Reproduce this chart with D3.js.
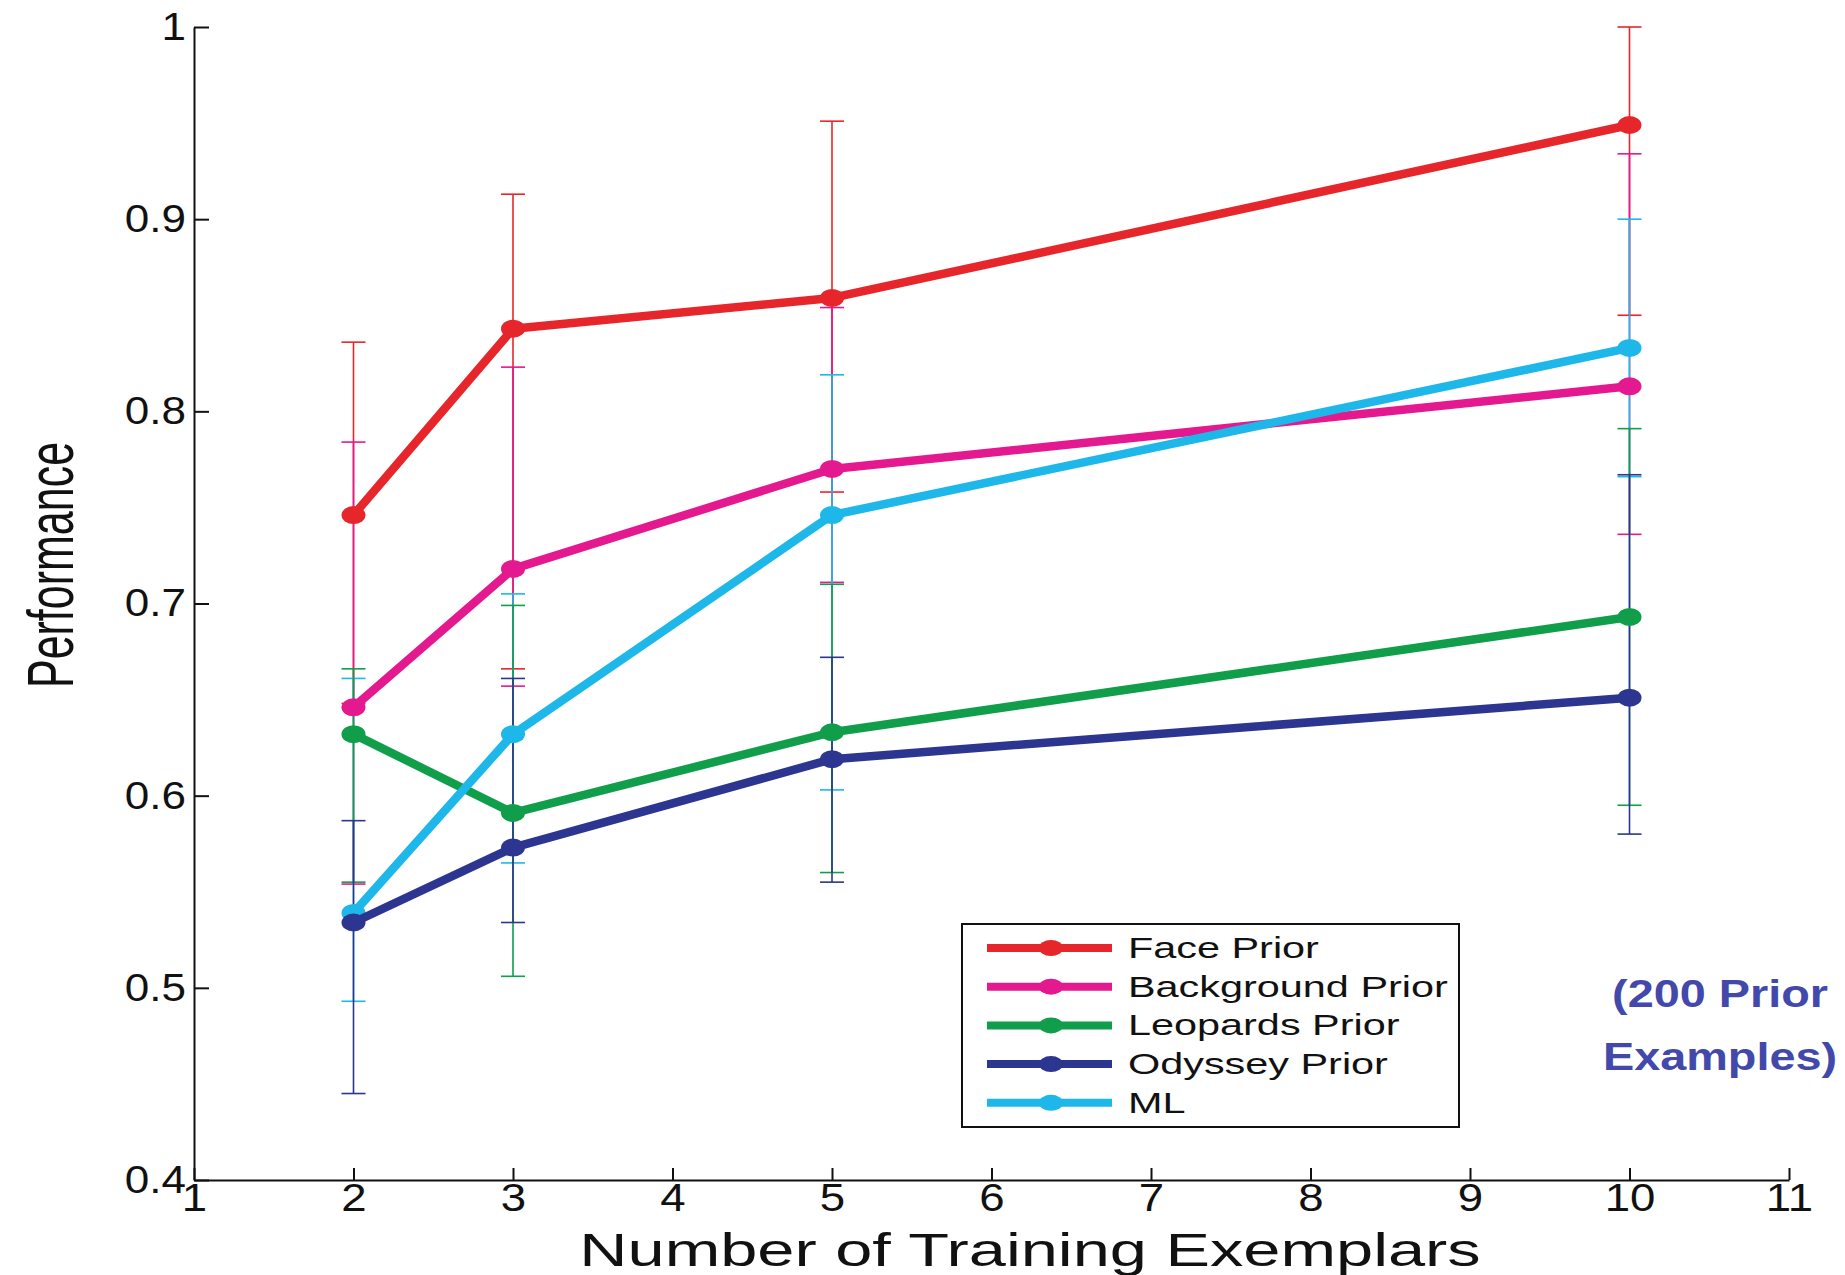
<!DOCTYPE html>
<html>
<head>
<meta charset="utf-8">
<script src="https://cdnjs.cloudflare.com/ajax/libs/d3/7.8.5/d3.min.js"></script>
<style>
    html, body { margin: 0; padding: 0; background: #fff; }
    svg { display: block; }
</style>
</head>
<body>
<div id="display"></div>
<script>
// values
const exemplars = [2, 3, 5, 10];
const xTicks = [1, 2, 3, 4, 5, 6, 7, 8, 9, 10, 11];
const yTicks = [0.4, 0.5, 0.6, 0.7, 0.8, 0.9, 1];

const seriesNames = ['Face Prior', 'Background Prior', 'Leopards Prior', 'Odyssey Prior', 'ML'];
const seriesColors = ['#e6262b', '#e5198f', '#109e4a', '#2c3590', '#1db7e9'];

const faceMean = [0.746, 0.843, 0.859, 0.949];
const faceLow = [0.648, 0.666, 0.758, 0.850];
const faceHigh = [0.836, 0.913, 0.951, 1.0];

const backgroundMean = [0.646, 0.718, 0.770, 0.813];
const backgroundLow = [0.554, 0.657, 0.711, 0.736];
const backgroundHigh = [0.784, 0.823, 0.854, 0.934];

const leopardsMean = [0.632, 0.591, 0.633, 0.693];
const leopardsLow = [0.555, 0.506, 0.560, 0.595];
const leopardsHigh = [0.666, 0.699, 0.710, 0.791];

const odysseyMean = [0.534, 0.573, 0.619, 0.651];
const odysseyLow = [0.445, 0.534, 0.555, 0.580];
const odysseyHigh = [0.587, 0.661, 0.672, 0.767];

const mlMean = [0.539, 0.632, 0.746, 0.833];
const mlLow = [0.493, 0.565, 0.603, 0.766];
const mlHigh = [0.661, 0.705, 0.819, 0.900];

const noteLines = ['(200 Prior', 'Examples)'];

const w = 1845;
const h = 1275;
const font = "'Liberation Sans', Arial, Helvetica, sans-serif";

const series = [
    { name: seriesNames[0], color: seriesColors[0], mean: faceMean, low: faceLow, high: faceHigh },
    { name: seriesNames[1], color: seriesColors[1], mean: backgroundMean, low: backgroundLow, high: backgroundHigh },
    { name: seriesNames[2], color: seriesColors[2], mean: leopardsMean, low: leopardsLow, high: leopardsHigh },
    { name: seriesNames[3], color: seriesColors[3], mean: odysseyMean, low: odysseyLow, high: odysseyHigh },
    { name: seriesNames[4], color: seriesColors[4], mean: mlMean, low: mlLow, high: mlHigh }
];
const toPoints = (s) => exemplars.map((x, i) => ({ x, y: s.mean[i], lo: s.low[i], hi: s.high[i] }));

// the figure was stretched sideways, so text gets a horizontal scale
const stretchText = (parent, x, y, str, size, sx, anchor = 'start', extra = '') => {
    return parent.append('text')
        .attr('transform', `translate(${x},${y}) scale(${sx},1) ${extra}`)
        .attr('text-anchor', anchor)
        .style('font-family', font)
        .style('font-size', size + 'px')
        .text(str);
}

const main = () => {
    const viz = d3.select('#display').append('svg')
        .attr('width', w)
        .attr('height', h);

    const xScale = d3.scaleLinear().domain([1, 11]).range([194, 1789]);
    const yScale = d3.scaleLinear().domain([0.4, 1]).range([1180, 27]);

    // error bars first, then lines + markers
    const barOrder = [0, 1, 4, 2, 3];
    const lineOrder = [0, 1, 2, 4, 3];
    const capHalf = 12;

    const bars = viz.append('g').attr('class', 'errorbars');
    barOrder.forEach((k) => {
        const s = series[k];
        const g = bars.append('g').attr('stroke', s.color).attr('stroke-width', 1.6);
        const pts = toPoints(s);
        g.selectAll('.stem').data(pts).enter().append('line')
            .attr('x1', (d) => xScale(d.x)).attr('x2', (d) => xScale(d.x))
            .attr('y1', (d) => yScale(d.lo)).attr('y2', (d) => yScale(d.hi));
        g.selectAll('.caphi').data(pts).enter().append('line')
            .attr('x1', (d) => xScale(d.x) - capHalf).attr('x2', (d) => xScale(d.x) + capHalf)
            .attr('y1', (d) => yScale(d.hi)).attr('y2', (d) => yScale(d.hi));
        g.selectAll('.caplo').data(pts).enter().append('line')
            .attr('x1', (d) => xScale(d.x) - capHalf).attr('x2', (d) => xScale(d.x) + capHalf)
            .attr('y1', (d) => yScale(d.lo)).attr('y2', (d) => yScale(d.lo));
    });

    const lineMaker = d3.line()
        .x((d) => xScale(d.x))
        .y((d) => yScale(d.y));

    const lines = viz.append('g').attr('class', 'lines');
    lineOrder.forEach((k) => {
        const s = series[k];
        const pts = toPoints(s);
        lines.append('path')
            .datum(pts)
            .attr('d', lineMaker)
            .attr('fill', 'none')
            .attr('stroke', s.color)
            .attr('stroke-width', 8.5)
            .attr('stroke-linejoin', 'round');
        lines.selectAll(null).data(pts).enter().append('ellipse')
            .attr('cx', (d) => xScale(d.x))
            .attr('cy', (d) => yScale(d.y))
            .attr('rx', 12)
            .attr('ry', 9)
            .attr('fill', s.color);
    });

    // axes
    const xAxisGroup = viz.append('g')
        .attr('class', 'xaxisgroup')
        .attr('transform', `translate(0,${yScale(0.4)})`)
        .call(d3.axisBottom(xScale).tickValues(xTicks).tickSizeInner(-12).tickSizeOuter(0).tickPadding(4).tickFormat(d3.format('d')));
    xAxisGroup.attr('font-family', font).attr('font-size', 38);
    xAxisGroup.selectAll('text').attr('fill', '#111').attr('transform', 'scale(1.2,1)');

    const yAxisGroup = viz.append('g')
        .attr('class', 'yaxisgroup')
        .attr('transform', `translate(${xScale(1)},0)`)
        .call(d3.axisLeft(yScale).tickValues(yTicks).tickSizeInner(-15).tickSizeOuter(0).tickPadding(7)
            .tickFormat((d) => d === 1 ? '1' : d.toFixed(1)));
    yAxisGroup.attr('font-family', font).attr('font-size', 39);
    yAxisGroup.selectAll('text').attr('fill', '#111').attr('transform', 'scale(1.13,1)');

    viz.selectAll('.domain, .tick line').attr('stroke', '#111').attr('stroke-width', 2);

    stretchText(viz, 1030, 1266, 'Number of Training Exemplars', 47, 1.42, 'middle').attr('fill', '#111');
    stretchText(viz, 73, 565, 'Performance', 43, 1.5, 'middle', 'rotate(-90)').attr('fill', '#111');

    // legend
    const legend = viz.append('g').attr('class', 'legend');
    legend.append('rect')
        .attr('x', 962).attr('y', 924)
        .attr('width', 497).attr('height', 203)
        .attr('fill', '#fff')
        .attr('stroke', '#111')
        .attr('stroke-width', 2);
    series.forEach((s, i) => {
        const ry = 948 + i * 38.7;
        legend.append('line')
            .attr('x1', 987).attr('x2', 1112)
            .attr('y1', ry).attr('y2', ry)
            .attr('stroke', s.color)
            .attr('stroke-width', 8);
        legend.append('ellipse')
            .attr('cx', 1051).attr('cy', ry)
            .attr('rx', 12).attr('ry', 8)
            .attr('fill', s.color);
        stretchText(legend, 1128, ry + 10, s.name, 30, 1.38).attr('fill', '#111');
    });

    // side note
    noteLines.forEach((t, i) => {
        stretchText(viz, 1720, 1007 + i * 63, t, 39, 1.2, 'middle')
            .attr('fill', '#4349ab')
            .style('font-weight', 'bold');
    });
}

main();
</script>
</body>
</html>
